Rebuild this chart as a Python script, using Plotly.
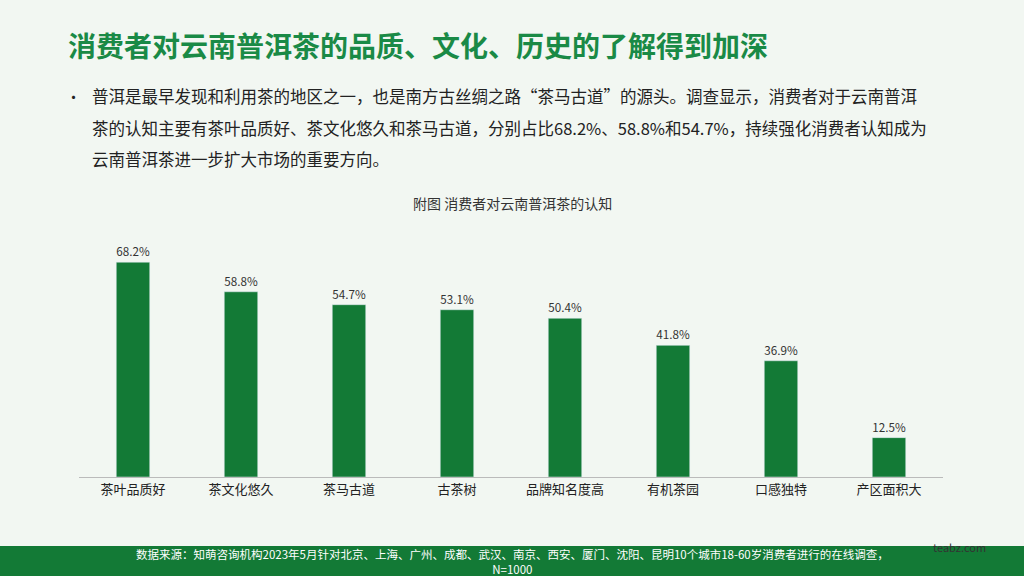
import plotly.graph_objects as go

categories = ["茶叶品质好", "茶文化悠久", "茶马古道", "古茶树", "品牌知名度高", "有机茶园", "口感独特", "产区面积大"]
values = [68.2, 58.8, 54.7, 53.1, 50.4, 41.8, 36.9, 12.5]
value_labels = ["68.2%", "58.8%", "54.7%", "53.1%", "50.4%", "41.8%", "36.9%", "12.5%"]

W, H = 1024, 576
font = "Noto Sans CJK SC"
green = "#137a36"

fig = go.Figure(go.Bar(
    x=categories, y=values, text=value_labels, textposition="outside",
    textfont=dict(size=12, color="#333", family=font),
    marker=dict(color=green), cliponaxis=False,
))

fig.update_layout(
    width=W, height=H, margin=dict(l=79, r=81, t=225, b=99),
    paper_bgcolor="#f2f7f2", plot_bgcolor="rgba(0,0,0,0)",
    bargap=0.69, showlegend=False, font=dict(family=font),
    xaxis=dict(showline=True, linecolor="#bbbbbb", linewidth=1, ticks="",
               tickfont=dict(size=13, color="#222", family=font), fixedrange=True),
    yaxis=dict(range=[0, 80], visible=False, fixedrange=True),
    shapes=[
        dict(type="rect", xref="paper", yref="paper", x0=-0.2, x1=1.2,
             y0=-(99 + 5) / 252, y1=-(546 - 477) / 252,
             fillcolor="#137a36", line=dict(width=0), layer="below"),
    ],
)

def ann(text, x, y, size, color, bold=False, xanchor="left", yanchor="middle"):
    fig.add_annotation(text=f"<b>{text}</b>" if bold else text, xref="paper", yref="paper",
                       x=(x - 79) / 864, y=(477 - y) / 252, showarrow=False,
                       xanchor=xanchor, yanchor=yanchor,
                       font=dict(size=size, color=color, family=font))

ann("消费者对云南普洱茶的品质、文化、历史的了解得到加深", 66, 45, 28, "#1a8a46", bold=True)
ann("•", 64, 96, 15, "#222")
ann("普洱是最早发现和利用茶的地区之一，也是南方古丝绸之路“茶马古道”的源头。调查显示，消费者对于云南普洱", 90, 96, 16.5, "#222")
ann("茶的认知主要有茶叶品质好、茶文化悠久和茶马古道，分别占比68.2%、58.8%和54.7%，持续强化消费者认知成为", 90, 128, 16.5, "#222")
ann("云南普洱茶进一步扩大市场的重要方向。", 90, 159, 16.5, "#222")
ann("附图 消费者对云南普洱茶的认知", 512, 203, 14, "#333", xanchor="center")
ann("数据来源：知萌咨询机构2023年5月针对北京、上海、广州、成都、武汉、南京、西安、厦门、沈阳、昆明10个城市18-60岁消费者进行的在线调查，<br>N=1000",
    512, 561, 11.5, "#ffffff", xanchor="center")
ann("teabz.com", 960, 547, 11, "#333", xanchor="center")

fig.write_html("out.html", config={"displayModeBar": False},
               post_script="document.body.style.margin='0';")
